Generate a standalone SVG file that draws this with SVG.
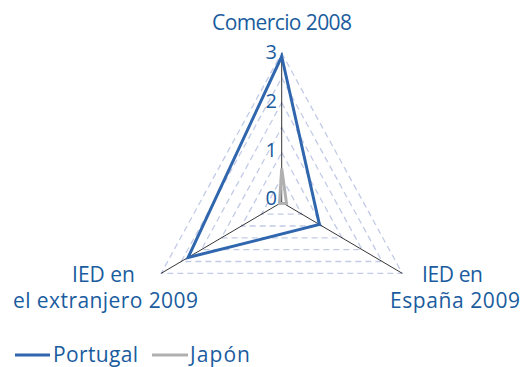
<svg xmlns="http://www.w3.org/2000/svg" width="531" height="367" viewBox="0 0 531 367">
<style>
.t{font-family:"Open Sans","Noto Sans",sans-serif;font-size:21px;fill:#1a5c9e}
.n{font-family:"Open Sans","Noto Sans",sans-serif;font-size:20px;fill:#1a5c9e}
.grid{fill:none;stroke:#c3cbe6;stroke-width:1.3;stroke-dasharray:6 4}
.axis{stroke:#000;stroke-width:0.8;fill:none}
.pt{fill:none;stroke:#2f66ad;stroke-width:3;stroke-linejoin:miter}
.jp{fill:none;stroke:#b0b0b0;stroke-width:3;stroke-linejoin:miter}
</style>
<rect width="531" height="367" fill="#fff"/>
<g id="grid">
<polygon class="grid" points="281.7,177.4 301.8,214.1 261.6,214.1"/>
<polygon class="grid" points="281.7,152.5 321.9,226 241.5,226"/>
<polygon class="grid" points="281.7,127.6 342,237.8 221.4,237.8"/>
<polygon class="grid" points="281.7,102.8 362,249.6 201.4,249.6"/>
<polygon class="grid" points="281.7,77.9 382.1,261.5 181.3,261.5"/>
<polygon class="grid" points="281.7,53 402.2,273.3 161.2,273.3"/>
</g>
<g id="axes">
<line class="axis" x1="281.7" y1="202.3" x2="281.7" y2="53"/>
<line class="axis" x1="281.7" y1="202.3" x2="402.2" y2="273.3"/>
<line class="axis" x1="281.7" y1="202.3" x2="161.2" y2="273.3"/>
</g>
<g id="ticks" class="n" text-anchor="end">
<text x="277" y="59">3</text>
<text x="277" y="108">2</text>
<text x="277" y="157">1</text>
<text x="277" y="205">0</text>
</g>
<g id="series">
<polygon id="japon" class="jp" points="281.7,168.5 286.5,203.2 279.5,203.5"/>
<polygon id="portugal" class="pt" points="281.7,56.5 319.4,224.5 188.1,257.5"/>
</g>
<g id="label-comercio"><text class="t" x="212" y="30" textLength="140">Comercio 2008</text></g>
<g id="label-extranjero" class="t">
<text x="72" y="281.5" textLength="63">IED en</text>
<text x="13" y="308" textLength="185">el extranjero 2009</text>
</g>
<g id="label-espana" class="t">
<text x="422" y="281.5" textLength="61">IED en</text>
<text x="390" y="308" textLength="130">España 2009</text>
</g>
<g id="legend">
<line x1="15" y1="355" x2="50" y2="355" stroke="#2f66ad" stroke-width="3"/>
<text class="t" x="53" y="362" textLength="85">Portugal</text>
<line x1="152" y1="355" x2="188" y2="355" stroke="#b0b0b0" stroke-width="3"/>
<text class="t" x="190" y="362" textLength="60">Japón</text>
</g>
</svg>
